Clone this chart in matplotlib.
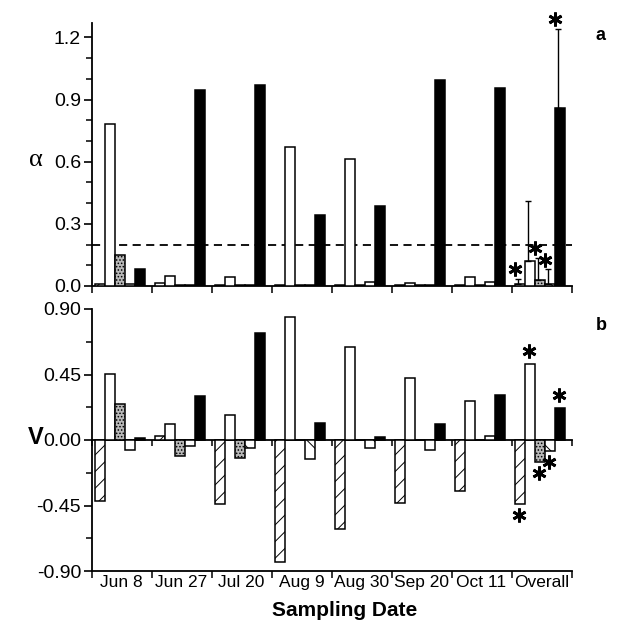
import matplotlib
matplotlib.use("Agg")
import matplotlib.pyplot as plt
import numpy as np
from matplotlib.ticker import MultipleLocator, FixedLocator, FixedFormatter, NullFormatter
from matplotlib.transforms import offset_copy

plt.rcParams['font.family'] = ['Liberation Sans', 'DejaVu Sans']
plt.rcParams['hatch.linewidth'] = 0.7

# ---------------- data ----------------
dates = ['Jun 8', 'Jun 27', 'Jul 20', 'Aug 9', 'Aug 30', 'Sep 20', 'Oct 11', 'Overall']

# panel a: alpha
alpha_s1 = [0.010, 0.016, 0.005, 0.005, 0.005, 0.005, 0.005, 0.008]   # hatched
alpha_s2 = [0.780, 0.050, 0.045, 0.670, 0.615, 0.015, 0.043, 0.120]   # white
alpha_s3 = [0.150, 0.005, 0.005, 0.005, 0.005, 0.005, 0.005, 0.030]   # stippled
alpha_s4 = [0.010, 0.005, 0.005, 0.005, 0.020, 0.005, 0.020, 0.008]   # back-hatched
alpha_s5 = [0.080, 0.945, 0.970, 0.345, 0.385, 0.995, 0.955, 0.860]   # black
alpha_overall_upper = [0.035, 0.410, 0.135, 0.080, 1.240]
alpha_overall_star = [True, False, True, True, True]
alpha_threshold = 0.2

# panel b: V
v_s1 = [-0.420, 0.030, -0.443, -0.836, -0.610, -0.430, -0.350, -0.440]
v_s2 = [0.455, 0.107, 0.175, 0.845, 0.640, 0.425, 0.266, 0.523]
v_s3 = [0.250, -0.107, -0.125, 0.000, 0.000, 0.000, 0.000, -0.152]
v_s4 = [-0.068, -0.040, -0.057, -0.130, -0.052, -0.070, 0.030, -0.073]
v_s5 = [0.011, 0.300, 0.736, 0.114, 0.018, 0.107, 0.307, 0.220]
v_overall_star = [True, True, True, True, True]

alpha_ticks = [0.0, 0.3, 0.6, 0.9, 1.2]
alpha_ticklabels = ['0.0', '0.3', '0.6', '0.9', '1.2']
v_ticks = [0.90, 0.45, 0.00, -0.45, -0.90]
v_ticklabels = ['0.90', '0.45', '0.00', '-0.45', '-0.90']

# ---------------- styles ----------------
styles = [
    dict(facecolor='white', edgecolor='black', hatch='//'),
    dict(facecolor='white', edgecolor='black', hatch=None),
    dict(facecolor='#b8b8b8', edgecolor='black', hatch='.....'),
    dict(facecolor='white', edgecolor='black', hatch='\\'),
    dict(facecolor='black', edgecolor='black', hatch=None),
]
bar_w = 1 / 6.0
first_off = 0.142

fig = plt.figure(figsize=(6.2, 6.24), dpi=100)
W, H = 620, 624
left = 91.5 / W
width = 480 / W
axa = fig.add_axes([left, 1 - 286 / H, width, (286 - 23) / H])
axb = fig.add_axes([left, 1 - 571 / H, width, (571 - 309) / H])

n = len(dates)
gx = np.arange(n)


def draw_bars(ax, series):
    xs_all = []
    for i, (vals, st) in enumerate(zip(series, styles)):
        xs = gx + first_off + i * bar_w
        ax.bar(xs, vals, width=bar_w, linewidth=1.1, zorder=3, **st)
        xs_all.append(xs)
    return xs_all


def style_axis(ax):
    for s in ['top', 'right']:
        ax.spines[s].set_visible(False)
    ax.spines['left'].set_linewidth(1.3)
    ax.spines['bottom'].set_linewidth(1.3)
    ax.set_xlim(0, n)
    ax.xaxis.set_major_locator(FixedLocator(np.arange(n + 1)))
    ax.xaxis.set_major_formatter(NullFormatter())
    ax.tick_params(axis='x', which='major', direction='out', length=5, width=1.1)
    ax.tick_params(axis='y', which='major', direction='out', length=6, width=1.2,
                   labelsize=14, pad=1.5)
    ax.tick_params(axis='y', which='minor', direction='out', length=4, width=1.1)


# ---- panel a ----
xa = draw_bars(axa, [alpha_s1, alpha_s2, alpha_s3, alpha_s4, alpha_s5])
style_axis(axa)
axa.set_ylim(0, 1.27)
axa.yaxis.set_major_locator(FixedLocator(alpha_ticks))
axa.yaxis.set_major_formatter(FixedFormatter(alpha_ticklabels))
axa.yaxis.set_minor_locator(MultipleLocator(0.1))
axa.axhline(alpha_threshold, color='black', lw=1.3, ls=(0, (4.5, 3)), zorder=2)

alpha_overall_vals = [s[-1] for s in [alpha_s1, alpha_s2, alpha_s3, alpha_s4, alpha_s5]]
ox = [x[-1] for x in xa]
for x, v, up, star in zip(ox, alpha_overall_vals, alpha_overall_upper, alpha_overall_star):
    axa.errorbar([x - 0.03], [v], yerr=[[0], [up - v]], fmt='none', ecolor='black',
                 elinewidth=1.0, capsize=2.5, capthick=1.0, zorder=4)
    if star:
        tr = offset_copy(axa.transData, fig=fig, x=-2, y=7, units='points')
        axa.plot([x - 0.03], [up], marker=(6, 2, 0), ms=10, mew=2.0, color='black',
                 transform=tr, clip_on=False, zorder=5)

# ---- panel b ----
xb = draw_bars(axb, [v_s1, v_s2, v_s3, v_s4, v_s5])
style_axis(axb)
axb.set_ylim(-0.9, 0.9)
axb.yaxis.set_major_locator(FixedLocator(v_ticks))
axb.yaxis.set_major_formatter(FixedFormatter(v_ticklabels))
axb.yaxis.set_minor_locator(MultipleLocator(0.225))
axb.xaxis.set_minor_locator(FixedLocator(gx + 0.5))
axb.xaxis.set_minor_formatter(FixedFormatter(dates))
axb.tick_params(axis='x', which='minor', length=0, labelsize=12.5, pad=3)

sec = axb.secondary_xaxis(0.5)
sec.set_xticks(np.arange(n + 1))
sec.set_xticklabels([])
sec.tick_params(direction='in', length=4.5, width=1.1)
sec.spines['top'].set_linewidth(1.3)

v_overall_vals = [s[-1] for s in [v_s1, v_s2, v_s3, v_s4, v_s5]]
oxb = [x[-1] for x in xb]
for x, v, star in zip(oxb, v_overall_vals, v_overall_star):
    if star:
        dy = 9 if v > 0 else -8
        tr = offset_copy(axb.transData, fig=fig, x=-1, y=dy, units='points')
        axb.plot([x], [v], marker=(6, 2, 0), ms=10, mew=2.0, color='black',
                 transform=tr, clip_on=False, zorder=5)

# ---- labels ----
fig.text(36 / W, 1 - 160 / H, 'α', fontsize=19, family=['Liberation Serif', 'DejaVu Serif'],
         ha='center', va='center')
fig.text(36 / W, 1 - 437 / H, 'V', fontsize=17, fontweight='bold', ha='center', va='center')
fig.text(601 / W, 1 - 35 / H, 'a', fontsize=13, fontweight='bold', ha='center', va='center')
fig.text(601 / W, 1 - 325 / H, 'b', fontsize=13, fontweight='bold', ha='center', va='center')
fig.text(345 / W, 1 - 610 / H, 'Sampling Date', fontsize=15, fontweight='bold',
         ha='center', va='center')

fig.savefig('out.png', dpi=100)
